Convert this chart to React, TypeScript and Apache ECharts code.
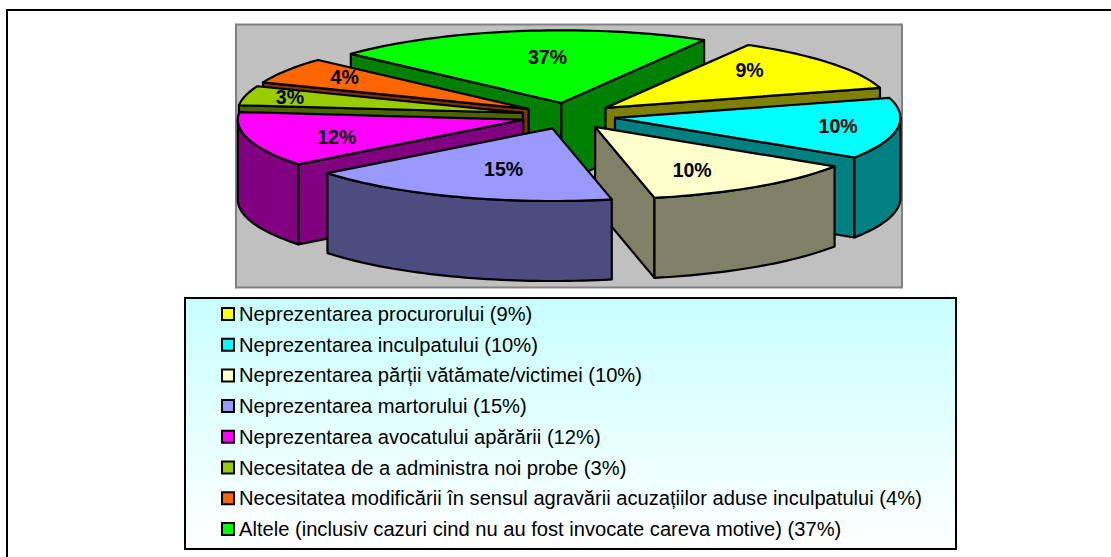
import React, { useEffect, useRef } from "react";
import * as echarts from "echarts";

const legendNames = [
  "Neprezentarea procurorului (9%)",
  "Neprezentarea inculpatului (10%)",
  "Neprezentarea părții vătămate/victimei (10%)",
  "Neprezentarea martorului (15%)",
  "Neprezentarea avocatului apărării (12%)",
  "Necesitatea de a administra noi probe (3%)",
  "Necesitatea modificării în sensul agravării acuzațiilor aduse inculpatului (4%)",
  "Altele (inclusiv cazuri cind nu au fost invocate careva motive) (37%)",
];
const percents = [9, 10, 10, 15, 12, 3, 4, 37];
// the picture's slices are not proportional to their labels: sweep of each one as drawn, in degrees
const drawnSweeps = [44, 49, 45, 64, 44, 15.5, 21, 77.5];
const topColors = ["#FFFF00", "#00FFFF", "#FFFFCC", "#9999FF", "#FF00FF", "#99CC00", "#FF6600", "#00FF00"];
const sideColors = ["#808000", "#008080", "#808066", "#4C4C80", "#800080", "#4C6600", "#803300", "#008000"];
const labelReach = [
  [0.64, 0.84], [0.79, 0.73], [0.6, 0.72], [0.5, 0.59],
  [0.68, 0.85], [0.84, 0.91], [0.76, 0.83], [0.32, 0.64],
];

const PIE = { cx: 568.5, cy: 116, rx: 285.5, ry: 72.6, depth: 80, explodeX: 47, explodeY: 13.2, start: -60 };
const RAD = Math.PI / 180;

const starts: number[] = [];
drawnSweeps.reduce((acc, s) => { starts.push(acc); return acc + s; }, PIE.start);

const midOf = (i: number) => starts[i] + drawnSweeps[i] / 2;
const apexOf = (i: number) => {
  const m = midOf(i) * RAD;
  return [PIE.cx + PIE.explodeX * Math.cos(m), PIE.cy + PIE.explodeY * Math.sin(m)];
};
const rimPoint = (a: number[], deg: number, drop = 0) => [
  a[0] + PIE.rx * Math.cos(deg * RAD),
  a[1] + PIE.ry * Math.sin(deg * RAD) + drop,
];
const arcPoints = (a: number[], from: number, to: number, drop = 0) => {
  const n = Math.max(2, Math.ceil(Math.abs(to - from) / 1.5));
  const pts: number[][] = [];
  for (let k = 0; k <= n; k++) pts.push(rimPoint(a, from + ((to - from) * k) / n, drop));
  return pts;
};

const strokeStyle = (fill: string) => ({ fill, stroke: "#000", lineWidth: 2.2, lineJoin: "round" as const });

function sliceChildren(i: number) {
  const a = apexOf(i);
  const s = starts[i];
  const e = s + drawnSweeps[i];
  const side = sideColors[i];
  const children: any[] = [];
  const wall = (deg: number) => {
    const r = rimPoint(a, deg);
    return {
      type: "polygon",
      shape: { points: [a, r, [r[0], r[1] + PIE.depth], [a[0], a[1] + PIE.depth]] },
      style: strokeStyle(side),
    };
  };
  if (Math.cos(s * RAD) < 0) children.push(wall(s));
  if (Math.cos(e * RAD) > 0) children.push(wall(e));
  const from = Math.max(s, 0);
  const to = Math.min(e, 180);
  if (to > from) {
    const top = arcPoints(a, from, to);
    const bottom = arcPoints(a, to, from, PIE.depth);
    children.push({ type: "polygon", shape: { points: [...top, ...bottom] }, style: strokeStyle(side) });
  }
  children.push({
    type: "polygon",
    shape: { points: [a, ...arcPoints(a, s, e)] },
    style: strokeStyle(topColors[i]),
  });
  return children;
}

const paintRank = percents
  .map((_, i) => ({ i, key: Math.sin(midOf(i) * RAD) }))
  .sort((p, q) => p.key - q.key)
  .map((p) => p.i);

const sliceSeries = legendNames.map((name, i) => ({
  type: "custom",
  name,
  coordinateSystem: "none",
  z: 3 + paintRank.indexOf(i),
  silent: true,
  itemStyle: { color: topColors[i] },
  data: [percents[i]],
  renderItem: () => ({ type: "group", children: sliceChildren(i) }),
}));

const labelSeries = {
  type: "custom",
  name: "labels",
  coordinateSystem: "none",
  z: 30,
  silent: true,
  data: percents,
  renderItem: (params: any) => {
    const i = params.dataIndex;
    const a = apexOf(i);
    const m = midOf(i) * RAD;
    return {
      type: "text",
      x: a[0] + labelReach[i][0] * PIE.rx * Math.cos(m),
      y: a[1] + labelReach[i][1] * PIE.ry * Math.sin(m),
      style: {
        text: `${percents[i]}%`,
        font: 'bold 19.5px "Liberation Sans", Arial, sans-serif',
        fill: "#000",
        align: "center",
        verticalAlign: "middle",
      },
    };
  },
};

const option = {
  animation: false,
  backgroundColor: "#fff",
  legend: {
    orient: "vertical",
    left: 221,
    top: 304,
    padding: 0,
    icon: "rect",
    itemWidth: 12,
    itemHeight: 12,
    itemGap: 10.7,
    selectedMode: false,
    data: legendNames,
    itemStyle: { borderColor: "#000", borderWidth: 2 },
    textStyle: { fontFamily: '"Liberation Sans", Arial, sans-serif', fontSize: 20.15, color: "#000", lineHeight: 20 },
  },
  graphic: [
    { type: "polyline", silent: true, shape: { points: [[7, 557], [7, 10], [1111, 10]] }, style: { fill: "none", stroke: "#000", lineWidth: 2 } },
    { type: "rect", silent: true, shape: { x: 236, y: 24.5, width: 666, height: 263 }, style: { fill: "#C0C0C0", stroke: "#808080", lineWidth: 2 } },
    {
      type: "rect",
      silent: true,
      shape: { x: 185, y: 298, width: 771, height: 251 },
      style: {
        fill: new echarts.graphic.LinearGradient(0, 0, 0, 1, [
          { offset: 0, color: "#C8FFFF" },
          { offset: 1, color: "#FFFFFF" },
        ]),
        stroke: "#000",
        lineWidth: 2,
      },
    },
  ],
  series: [...sliceSeries, labelSeries],
};

export default function App() {
  const ref = useRef<HTMLDivElement>(null);
  useEffect(() => {
    const chart = echarts.init(ref.current!, undefined, { renderer: "svg" });
    chart.setOption(option as any);
    return () => chart.dispose();
  }, []);
  return <div ref={ref} style={{ position: "absolute", left: 0, top: 0, width: 1111, height: 557 }} />;
}
